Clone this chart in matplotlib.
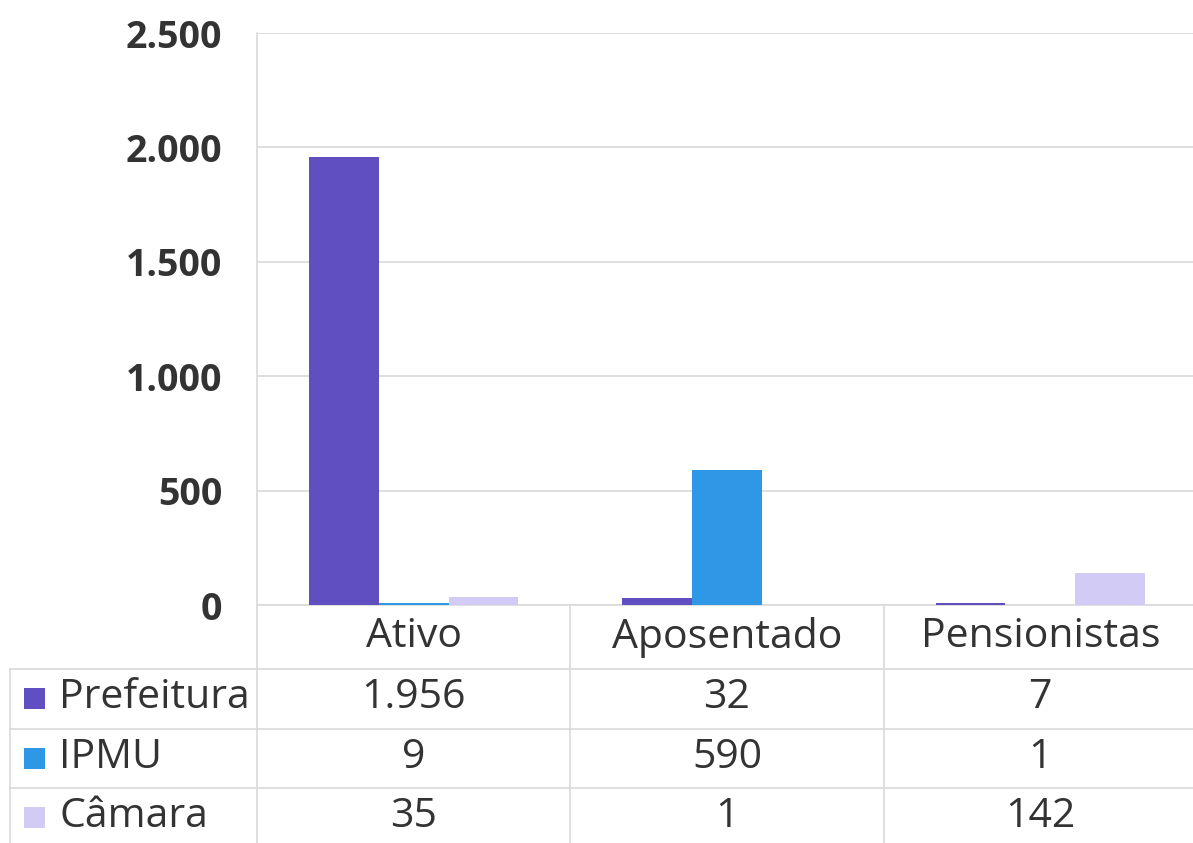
import matplotlib
matplotlib.use("Agg")
import matplotlib.pyplot as plt
from matplotlib.transforms import blended_transform_factory
from matplotlib.patches import Rectangle

categories = ["Ativo", "Aposentado", "Pensionistas"]
series_names = ["Prefeitura", "IPMU", "Câmara"]
prefeitura = [1956, 32, 7]
ipmu = [9, 590, 1]
camara = [35, 1, 142]
yticks = [0, 500, 1000, 1500, 2000, 2500]

series_values = [prefeitura, ipmu, camara]
colors = ["#5F4FC0", "#2F98E6", "#D2CBF5"]
text_color = "#333333"
grid_color = "#D9D9D9"

plt.rcParams['font.family'] = ['Open Sans', 'DejaVu Sans']

W, H = 1193, 843
fig = plt.figure(figsize=(W / 100, H / 100), dpi=100)
left_px, right_px, top_px, bot_px = 257, 1197, 33, 605
ax = fig.add_axes([left_px / W, (H - bot_px) / H, (right_px - left_px) / W, (bot_px - top_px) / H])

x = list(range(len(categories)))
bw = 0.223
for i, (name, vals, c) in enumerate(zip(series_names, series_values, colors)):
    ax.bar([xi + (i - 1) * bw for xi in x], vals, width=bw, color=c, zorder=3, label=name)

ax.set_xlim(-0.5, 2.5)
ax.set_ylim(0, 2500)
ax.set_yticks(yticks)
ax.set_yticklabels([f"{v:,}".replace(",", ".") for v in yticks], fontsize=27,
                   fontweight="bold", color=text_color)
ax.tick_params(axis="y", length=0, pad=25)
ax.tick_params(axis="x", length=0, labelbottom=False)
ax.grid(axis="y", color=grid_color, linewidth=1.2, zorder=0)
for s in ["top", "right"]:
    ax.spines[s].set_visible(False)
ax.spines["left"].set_color(grid_color)
ax.spines["bottom"].set_color(grid_color)
ax.spines["left"].set_linewidth(1.2)
ax.spines["bottom"].set_linewidth(1.2)

# table below the axes
ah = bot_px - top_px
aw = right_px - left_px
def fy(py):
    return -(py - bot_px) / ah
def fx(px):
    return (px - left_px) / aw

tr = blended_transform_factory(ax.transData, ax.transAxes)
lkw = dict(color=grid_color, linewidth=1.2, clip_on=False, transform=ax.transAxes)

row_h = 60
header_c = 637
row_lines = [669, 729, 788]
bottom_px = 850

# vertical lines
ax.plot([0, 0], [fy(bot_px), fy(bottom_px)], **lkw)
for b in [0.5, 1.5]:
    ax.plot([b, b], [fy(bot_px), fy(bottom_px)], color=grid_color, linewidth=1.2,
            clip_on=False, transform=tr)
ax.plot([fx(10), fx(10)], [fy(row_lines[0]), fy(bottom_px)], **lkw)
for ly in row_lines:
    ax.plot([fx(10), 1.0], [fy(ly), fy(ly)], **lkw)

fs = 29.5
for xi, cat in zip(x, categories):
    ax.text(xi, fy(header_c), cat, transform=tr, ha="center", va="center",
            fontsize=fs, color=text_color, clip_on=False)

row_centers = [698, 758, 817]
for r, (name, vals, c) in enumerate(zip(series_names, series_values, colors)):
    cy = row_centers[r]
    sq = 21
    ax.add_patch(Rectangle((fx(24), fy(cy + 11)), sq / aw, sq / ah, transform=ax.transAxes,
                           facecolor=c, edgecolor="none", clip_on=False))
    ax.text(fx(59), fy(cy), name, transform=ax.transAxes, ha="left", va="center",
            fontsize=fs, color=text_color, clip_on=False)
    for xi, v in zip(x, vals):
        ax.text(xi, fy(cy), f"{v:,}".replace(",", "."), transform=tr, ha="center", va="center",
                fontsize=fs, color=text_color, clip_on=False)

fig.savefig("out.png", dpi=100)
